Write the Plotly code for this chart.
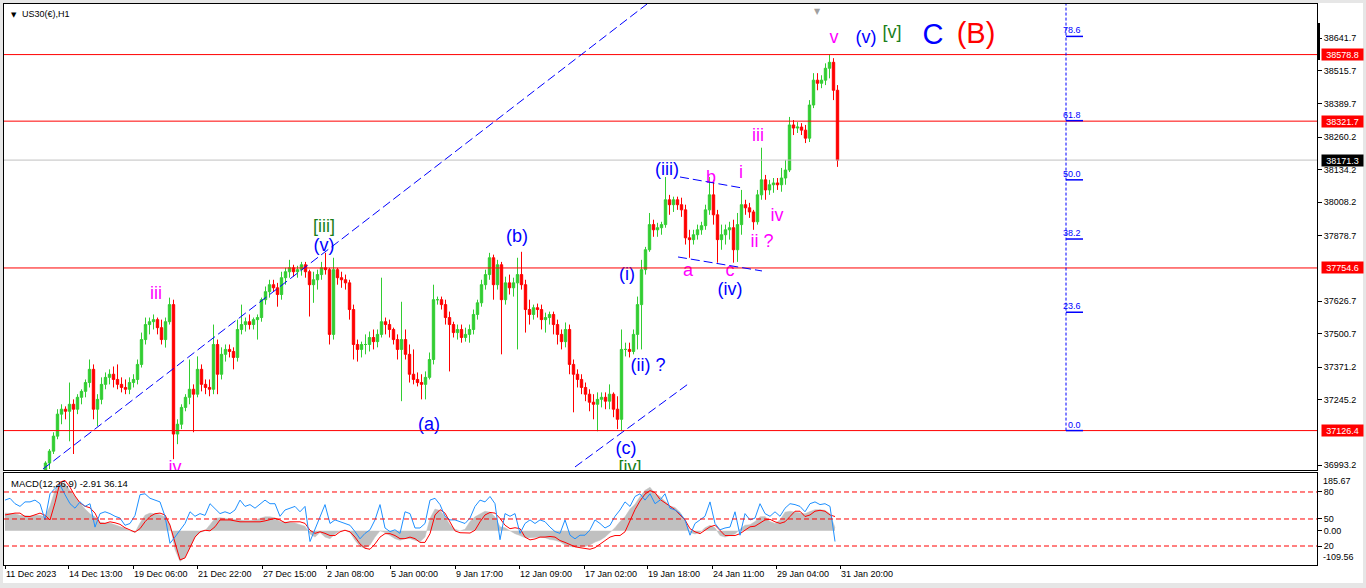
"""
US30 H1 chart with Elliott wave labels and a MACD / RSI sub-window
Rebuilt with Plotly graph objects
"""

import plotly.graph_objects as go

# ---------------------------------------------------------------- data
# price candles, one candle per 4 H1 bars, first candle starts at bar 39
PRICE_START_BAR = 39
BARS_PER_CANDLE = 4

OPEN = [36955, 37001, 37047, 37105, 37190, 37209, 37201, 37228, 37209, 37255,
        37278, 37312, 37363, 37209, 37247, 37305, 37332, 37344, 37324, 37305,
        37293, 37286, 37312, 37324, 37382, 37478, 37536, 37547, 37555, 37524,
        37478, 37547, 37613, 37113, 37151, 37216, 37255, 37286, 37267, 37363,
        37305, 37293, 37286, 37459, 37344, 37421, 37440, 37432, 37409, 37517,
        37536, 37547, 37536, 37555, 37563, 37632, 37663, 37690, 37678, 37652,
        37717, 37740, 37755, 37740, 37748, 37767, 37740, 37690, 37709, 37729,
        37755, 37748, 37498, 37748, 37717, 37709, 37697, 37594, 37459, 37440,
        37459, 37459, 37486, 37470, 37498, 37547, 37536, 37517, 37478, 37440,
        37478, 37421, 37344, 37324, 37312, 37305, 37332, 37401, 37632, 37632,
        37613, 37563, 37536, 37505, 37517, 37486, 37498, 37517, 37575, 37620,
        37690, 37729, 37794, 37690, 37767, 37632, 37697, 37678, 37697, 37729,
        37690, 37594, 37575, 37601, 37594, 37555, 37563, 37575, 37536, 37498,
        37470, 37517, 37382, 37344, 37324, 37293, 37267, 37236, 37228, 37247,
        37255, 37240, 37267, 37209, 37170, 37440, 37440, 37432, 37498, 37613,
        37748, 37825, 37922, 37902, 37910, 37922, 38018, 37999, 38018, 37999,
        37979, 37871, 37864, 37883, 37902, 37918, 37979, 38037, 37960, 37864,
        37883, 37902, 37910, 37825, 37922, 37999, 37987, 37971, 37933, 38037,
        38095, 38056, 38076, 38083, 38076, 38102, 38133, 38307, 38295, 38299,
        38287, 38256, 38384, 38480, 38468, 38480, 38526, 38549, 38441]
HIGH = [37008, 37055, 37120, 37209, 37228, 37220, 37312, 37247, 37267, 37286,
        37324, 37401, 37382, 37267, 37332, 37351, 37363, 37374, 37382, 37332,
        37324, 37332, 37344, 37401, 37505, 37563, 37563, 37575, 37563, 37555,
        37563, 37640, 37632, 37170, 37228, 37267, 37401, 37305, 37413, 37382,
        37324, 37324, 37536, 37478, 37448, 37459, 37459, 37448, 37555, 37613,
        37563, 37575, 37563, 37575, 37640, 37683, 37709, 37709, 37697, 37740,
        37755, 37786, 37767, 37763, 37778, 37778, 37748, 37740, 37748, 37778,
        37813, 37755, 37794, 37755, 37740, 37729, 37709, 37613, 37478, 37470,
        37498, 37509, 37517, 37517, 37717, 37563, 37555, 37524, 37498, 37624,
        37517, 37459, 37440, 37351, 37344, 37355, 37428, 37690, 37644, 37644,
        37632, 37586, 37547, 37536, 37536, 37524, 37536, 37594, 37632, 37709,
        37748, 37813, 37806, 37786, 37778, 37721, 37729, 37717, 37794, 37817,
        37709, 37632, 37613, 37617, 37613, 37582, 37586, 37586, 37555, 37517,
        37544, 37536, 37401, 37363, 37344, 37312, 37286, 37267, 37274, 37274,
        37274, 37305, 37274, 37259, 37517, 37466, 37466, 37517, 37644, 37786,
        37836, 37967, 37941, 37929, 37933, 38106, 38037, 38030, 38030, 38026,
        37999, 37902, 37902, 37922, 37933, 37999, 38106, 38095, 37979, 37922,
        37922, 37933, 37941, 37967, 38056, 38018, 38006, 37979, 38056, 38219,
        38114, 38095, 38102, 38102, 38141, 38172, 38338, 38326, 38318, 38314,
        38307, 38403, 38507, 38507, 38499, 38545, 38579, 38565, 38461]
LOW = [36947, 36978, 37036, 37093, 37151, 37170, 37085, 37036, 37190, 37228,
       37255, 37293, 37170, 37143, 37228, 37286, 37305, 37293, 37286, 37274,
       37267, 37267, 37293, 37305, 37370, 37459, 37498, 37517, 37498, 37459,
       37447, 37536, 37016, 37074, 37132, 37201, 37228, 37120, 37255, 37278,
       37267, 37259, 37267, 37267, 37324, 37393, 37409, 37363, 37393, 37498,
       37509, 37517, 37517, 37478, 37547, 37613, 37640, 37663, 37605, 37632,
       37690, 37717, 37721, 37717, 37725, 37717, 37567, 37620, 37671, 37709,
       37729, 37459, 37478, 37690, 37678, 37671, 37555, 37401, 37393, 37409,
       37421, 37432, 37440, 37448, 37486, 37498, 37486, 37459, 37401, 37240,
       37401, 37312, 37305, 37297, 37247, 37247, 37324, 37382, 37613, 37594,
       37536, 37355, 37486, 37478, 37466, 37470, 37466, 37498, 37555, 37605,
       37671, 37709, 37632, 37671, 37421, 37613, 37652, 37644, 37440, 37671,
       37505, 37536, 37555, 37563, 37517, 37505, 37536, 37498, 37459, 37440,
       37448, 37344, 37197, 37293, 37267, 37240, 37201, 37170, 37124, 37216,
       37209, 37209, 37178, 37132, 37124, 37413, 37409, 37421, 37440, 37440,
       37729, 37817, 37875, 37875, 37883, 37910, 37960, 37971, 37979, 37952,
       37845, 37794, 37845, 37864, 37883, 37902, 37960, 37922, 37775, 37825,
       37845, 37864, 37775, 37778, 37883, 37960, 37948, 37902, 37922, 38018,
       38018, 38037, 38045, 38056, 38049, 38076, 38125, 38268, 38276, 38268,
       38237, 38241, 38372, 38441, 38449, 38461, 38487, 38403, 38145]
CLOSE = [37001, 37047, 37105, 37190, 37209, 37201, 37228, 37209, 37255, 37278,
         37312, 37363, 37209, 37247, 37305, 37332, 37344, 37324, 37305, 37293,
         37286, 37312, 37324, 37382, 37478, 37536, 37547, 37555, 37524, 37478,
         37547, 37613, 37113, 37151, 37216, 37255, 37286, 37267, 37363, 37305,
         37293, 37286, 37459, 37344, 37421, 37440, 37432, 37409, 37517, 37536,
         37547, 37536, 37555, 37563, 37632, 37663, 37690, 37678, 37652, 37717,
         37740, 37755, 37740, 37748, 37767, 37740, 37690, 37709, 37729, 37755,
         37748, 37498, 37748, 37717, 37709, 37697, 37594, 37459, 37440, 37459,
         37459, 37486, 37470, 37498, 37547, 37536, 37517, 37478, 37440, 37478,
         37421, 37344, 37324, 37312, 37305, 37332, 37401, 37632, 37632, 37613,
         37563, 37536, 37505, 37517, 37486, 37498, 37517, 37575, 37620, 37690,
         37729, 37794, 37690, 37767, 37632, 37697, 37678, 37697, 37729, 37690,
         37594, 37575, 37601, 37594, 37555, 37563, 37575, 37536, 37498, 37470,
         37517, 37382, 37344, 37324, 37293, 37267, 37236, 37228, 37247, 37255,
         37240, 37267, 37209, 37170, 37440, 37440, 37432, 37498, 37613, 37748,
         37825, 37922, 37902, 37910, 37922, 38018, 37999, 38018, 37999, 37979,
         37871, 37864, 37883, 37902, 37918, 37979, 38037, 37960, 37864, 37883,
         37902, 37910, 37825, 37922, 37999, 37987, 37971, 37933, 38037, 38095,
         38056, 38076, 38083, 38076, 38102, 38133, 38307, 38295, 38299, 38287,
         38256, 38384, 38480, 38468, 38480, 38526, 38549, 38441, 38171]

# MACD window, one reading every 5 bars starting at bar 0
MACD_STEP = 5
MACD_HIST = [57, 57, 55, 50, 48, 48, 50, 50, 45, 80, 130, 155, 150, 130, 110, 90, 70, 55, 45, 28,
             25, 25, 20, 15, 8, 0, -5, 25, 50, 57, 55, 52, 45, 20, -60, -98, -85, -50, -20, -5,
             0, 20, 40, 42, 40, 38, 35, 33, 33, 33, 35, 40, 45, 45, 42, 30, 28, 28, 25, 20,
             15, -10, -20, -5, -20, -25, -10, 0, 2, -5, -30, -50, -55, -45, -20, 0, -5, -15, -25, -30,
             -25, -25, -30, -35, -20, 40, 70, 65, 45, 20, 5, 0, 5, 30, 45, 55, 63, 60, 45, 13,
             10, 0, -9, -15, -22, -22, -20, -20, -22, -28, -30, -35, -45, -50, -52, -50, -50, -45, -36, -30,
             -20, -5, 10, 30, 45, 70, 85, 110, 130, 140, 120, 110, 95, 80, 75, 60, 35, -5, -10, -5,
             10, 18, 10, -15, -20, -15, -10, 5, 18, 20, 30, 45, 46, 30, 24, 35, 60, 63, 60, 57,
             55, 62, 68, 68, 66, 55, 10]
MACD_SIGNAL = [51, 55, 57, 57, 46, 46, 52, 57, 50, 35, 90, 156, 162, 140, 112, 90, 79, 74, 57, 24,
               24, 29, 26, 21, 10, 2, -4, 7, 29, 46, 55, 57, 51, 18, -42, -93, -87, -53, -20, -3,
               2, 0, 13, 35, 35, 35, 32, 29, 29, 29, 29, 29, 32, 35, 40, 35, 26, 29, 29, 29,
               24, 2, -8, -3, -8, -15, -15, -3, 2, -3, -20, -42, -56, -59, -42, -20, -9, -9, -15, -25,
               -25, -20, -25, -37, -37, -9, 51, 68, 57, 30, 0, -6, -7, -7, 2, 29, 51, 59, 57, 40,
               18, 7, 10, 7, -20, -29, -26, -20, -20, -18, -20, -31, -37, -45, -51, -54, -56, -59, -54, -42,
               -31, -20, -15, -15, -3, 35, 68, 96, 118, 129, 123, 101, 90, 79, 68, 51, 35, 7, -3, -9,
               2, 13, 18, 2, -15, -15, -15, -9, 2, 13, 15, 24, 35, 37, 29, 24, 29, 46, 63, 63,
               46, 51, 63, 66, 63, 51, 46]
# blue oscillator drawn in the same window on a 0-100 scale
RSI_LINE = [71, 73, 67, 64, 69, 69, 71, 67, 49, 78, 84, 88, 77, 67, 62, 69, 64, 67, 41, 56,
            58, 56, 53, 51, 43, 45, 54, 77, 78, 73, 71, 69, 53, 23, 30, 38, 45, 58, 53, 56,
            54, 67, 62, 56, 58, 56, 60, 71, 64, 66, 62, 67, 71, 67, 67, 53, 60, 62, 64, 58,
            64, 25, 38, 53, 66, 45, 49, 47, 45, 43, 36, 28, 34, 38, 49, 66, 40, 36, 38, 34,
            58, 56, 40, 40, 45, 71, 73, 66, 53, 49, 49, 47, 45, 51, 64, 71, 69, 75, 67, 27,
            56, 53, 56, 34, 45, 49, 45, 49, 47, 41, 36, 34, 49, 32, 28, 32, 32, 38, 49, 45,
            40, 43, 53, 60, 69, 64, 75, 78, 71, 78, 67, 71, 78, 62, 60, 56, 49, 32, 45, 49,
            53, 69, 45, 38, 40, 41, 58, 32, 56, 49, 51, 67, 56, 53, 58, 53, 62, 67, 66, 64,
            58, 67, 69, 66, 67, 64, 25]
RSI_LEVELS = [80, 50, 20]

# axis labels
TIME_TICK_BARS = [0, 63, 128, 192, 257, 321, 385, 450, 514, 579, 642, 707, 771, 835]
TIME_TICK_LABELS = ["11 Dec 2023", "14 Dec 13:00", "19 Dec 06:00", "21 Dec 22:00",
                    "27 Dec 15:00", "2 Jan 08:00", "5 Jan 00:00", "9 Jan 17:00",
                    "12 Jan 09:00", "17 Jan 02:00", "19 Jan 18:00", "24 Jan 11:00",
                    "29 Jan 04:00", "31 Jan 20:00"]
# scale labels that are not hidden under a price box
PRICE_TICKS = [38641.7, 38515.7, 38389.7, 38260.2, 38134.2, 38008.2, 37878.7,
               37626.7, 37500.7, 37371.2, 37245.2, 36993.2]
PRICE_MIN, PRICE_MAX = 36974.1, 38774.2
MACD_MIN, MACD_MAX = -109.56, 185.67

# horizontal levels
RED_LEVELS = [38578.8, 38321.7, 37754.6, 37126.4]
BID_PRICE = 38171.3

# fibonacci retracement tool
FIB_BAR = 1061
FIB_LOW, FIB_HIGH = 37126.4, 39063.6
FIB_LEVELS = [0.0, 23.6, 38.2, 50.0, 61.8, 78.6]

# trend lines: (bar, price) -> (bar, price)
TREND_LINES = [((38, 36978), (642, 38774)),
               ((570, 36986), (683, 37306)),
               ((675, 38106), (738, 38063)),
               ((673, 37797), (757, 37743))]

# wave labels: text, bar, price, degree
WAVE_LABELS = [
    ("[iii]", 319, 37910, "intermediate"), ("(v)", 319, 37837, "minor"),
    ("iii", 151, 37652, "minute"), ("iv", 170, 36981, "minute"),
    ("(a)", 424, 37147, "minor"), ("(b)", 512, 37871, "minor"),
    ("(c)", 621, 37055, "minor"), ("[iv]", 625, 36981, "intermediate"),
    ("(i)", 622, 37725, "minor"), ("(ii) ?", 643, 37374, "minor"),
    ("(iii)", 662, 38133, "minor"), ("a", 683, 37740, "minute"),
    ("b", 706, 38102, "minute"), ("c", 725, 37742, "minute"),
    ("(iv)", 725, 37668, "minor"), ("i", 736, 38118, "minute"),
    ("ii ?", 757, 37852, "minute"), ("iv", 772, 37952, "minute"),
    ("iii", 753, 38264, "minute"), ("v", 829, 38642, "minute"),
    ("(v)", 861, 38642, "minor"), ("[v]", 887, 38661, "intermediate"),
]
BIG_LABELS = [("C", 928, 38649, "primary"), ("(B)", 971, 38653, "cycle")]

# ---------------------------------------------------------------- style
FONT = "Liberation Sans, Arial, sans-serif"
BAR_UP = "#32CD32"
BAR_DOWN = "#FF0000"
DEGREE_COLORS = {
    "minute": "#FF00FF",
    "minor": "#0000FF",
    "intermediate": "#1A7F1A",
    "primary": "#0000FF",
    "cycle": "#FF0000",
}
X_RANGE = [-1, 1312]
MAIN_DOMAIN = [0.1693, 1.0]
SUB_DOMAIN = [0.0, 0.164]

fig = go.Figure()

# price bars
candle_x = [PRICE_START_BAR + BARS_PER_CANDLE * i + 1.5 for i in range(len(CLOSE))]
fig.add_trace(go.Candlestick(
    x=candle_x, open=OPEN, high=HIGH, low=LOW, close=CLOSE,
    increasing=dict(line=dict(color=BAR_UP, width=1), fillcolor=BAR_UP),
    decreasing=dict(line=dict(color=BAR_DOWN, width=1), fillcolor=BAR_DOWN),
    whiskerwidth=0, xaxis="x", yaxis="y", hoverinfo="skip", showlegend=False
))

# MACD window
macd_x = [MACD_STEP * i for i in range(len(MACD_HIST))]
fig.add_trace(go.Scatter(
    x=macd_x, y=MACD_HIST, mode="lines", fill="tozeroy",
    fillcolor="#C0C0C0", line=dict(color="#C0C0C0", width=0.5),
    xaxis="x2", yaxis="y2", hoverinfo="skip", showlegend=False
))
fig.add_trace(go.Scatter(
    x=macd_x, y=MACD_SIGNAL, mode="lines", line=dict(color="#FF0000", width=1),
    xaxis="x2", yaxis="y2", hoverinfo="skip", showlegend=False
))
fig.add_trace(go.Scatter(
    x=macd_x, y=RSI_LINE, mode="lines", line=dict(color="#1E90FF", width=1),
    xaxis="x2", yaxis="y3", hoverinfo="skip", showlegend=False
))

# wave labels as text traces so they are clipped at the panel edge
fig.add_trace(go.Scatter(
    x=[w[1] for w in WAVE_LABELS], y=[w[2] for w in WAVE_LABELS],
    text=[w[0] for w in WAVE_LABELS], mode="text", textposition="middle center",
    textfont=dict(family=FONT, size=18, color=[DEGREE_COLORS[w[3]] for w in WAVE_LABELS]),
    xaxis="x", yaxis="y", hoverinfo="skip", showlegend=False, cliponaxis=True
))
fig.add_trace(go.Scatter(
    x=[w[1] for w in BIG_LABELS], y=[w[2] for w in BIG_LABELS],
    text=[w[0] for w in BIG_LABELS], mode="text", textposition="middle center",
    textfont=dict(family=FONT, size=29, color=[DEGREE_COLORS[w[3]] for w in BIG_LABELS]),
    xaxis="x", yaxis="y", hoverinfo="skip", showlegend=False
))

shapes = []
annotations = []

# window frame: grey border round a white chart area
shapes.append(dict(type="rect", xref="paper", yref="paper", layer="below",
                   x0=-1 / 1313, x1=1359 / 1313, y0=-18 / 561, y1=562 / 561,
                   fillcolor="white", line=dict(width=0)))

# red support / resistance lines with price boxes
for level in RED_LEVELS:
    shapes.append(dict(type="line", xref="paper", yref="y", x0=0, x1=1, y0=level, y1=level,
                       line=dict(color="#FF0000", width=1)))
    annotations.append(dict(xref="paper", yref="y", x=1, y=level, xanchor="left", xshift=4,
                            text=f"{level:.1f}", showarrow=False, bgcolor="#FF0000",
                            font=dict(family=FONT, size=9, color="white"),
                            width=41, height=11, borderpad=0))

# bid line
shapes.append(dict(type="line", xref="paper", yref="y", x0=0, x1=1, y0=BID_PRICE, y1=BID_PRICE,
                   line=dict(color="#C0C0C0", width=1)))
annotations.append(dict(xref="paper", yref="y", x=1, y=BID_PRICE, xanchor="left", xshift=4,
                        text=f"{BID_PRICE:.1f}", showarrow=False, bgcolor="black",
                        font=dict(family=FONT, size=9, color="white"),
                        width=41, height=11, borderpad=0))

# trend lines
for (b0, p0), (b1, p1) in TREND_LINES:
    shapes.append(dict(type="line", xref="x", yref="y", x0=b0, y0=p0, x1=b1, y1=p1,
                       line=dict(color="#0000FF", width=1, dash="9px,4px")))

# fibonacci tool
shapes.append(dict(type="line", xref="x", yref="y", x0=FIB_BAR, x1=FIB_BAR,
                   y0=FIB_LOW, y1=FIB_HIGH, line=dict(color="#0000FF", width=1, dash="3px,2px")))
for lvl in FIB_LEVELS:
    price = FIB_LOW + lvl / 100 * (FIB_HIGH - FIB_LOW)
    shapes.append(dict(type="line", xref="x", yref="y", x0=FIB_BAR, x1=FIB_BAR + 17,
                       y0=price, y1=price, line=dict(color="#0000FF", width=1.5)))
    annotations.append(dict(xref="x", yref="y", x=FIB_BAR + 17, y=price, xanchor="right",
                            yanchor="bottom", yshift=-1, text=f"{lvl:.1f}", showarrow=False,
                            font=dict(family=FONT, size=9, color="#0000FF")))

# oscillator levels
for lvl in RSI_LEVELS:
    shapes.append(dict(type="line", xref="paper", yref="y3", x0=0, x1=1, y0=lvl, y1=lvl,
                       line=dict(color="#FF0000", width=1, dash="5px,3px")))

# scale marker on the price axis
shapes.append(dict(type="rect", xref="paper", yref="paper", x0=1, x1=1 + 3 / 1313,
                   y0=505 / 561, y1=542 / 561, fillcolor="black", line=dict(width=0)))

# window texts
annotations += [
    dict(xref="paper", yref="paper", x=0, y=1, xanchor="left", yanchor="top",
         xshift=5, yshift=-5, text="▼", showarrow=False,
         font=dict(family="DejaVu Sans", size=7, color="black")),
    dict(xref="paper", yref="paper", x=0, y=1, xanchor="left", yanchor="top",
         xshift=16, yshift=-3, text="US30(€),H1", showarrow=False,
         font=dict(family=FONT, size=9, color="black")),
    dict(xref="x", yref="paper", x=812, y=1, yanchor="top", yshift=-1, text="▼",
         showarrow=False, font=dict(family="DejaVu Sans", size=8, color="#A0A0A0")),
    dict(xref="paper", yref="y2 domain", x=0, y=1, xanchor="left", yanchor="top",
         xshift=5, yshift=-3, text="MACD(12,26,9) -2.91 36.14", showarrow=False,
         font=dict(family=FONT, size=9.5, color="black")),
    dict(xref="paper", yref="y2 domain", x=1, y=1, xanchor="left", yanchor="top",
         xshift=4, yshift=-1, text=f"{MACD_MAX:.2f}", showarrow=False,
         font=dict(family=FONT, size=9, color="black")),
    dict(xref="paper", yref="y2 domain", x=1, y=0, xanchor="left", yanchor="bottom",
         xshift=4, yshift=1, text=f"{MACD_MIN:.2f}", showarrow=False,
         font=dict(family=FONT, size=9, color="black")),
]

axis_font = dict(family=FONT, size=9, color="black")
frame = dict(showline=True, mirror=True, linecolor="black", linewidth=1,
             showgrid=False, zeroline=False)

fig.update_layout(
    width=1366, height=588,
    margin=dict(l=4, r=49, t=4, b=23),
    paper_bgcolor="#E6E6E6", plot_bgcolor="white",
    showlegend=False, boxgap=0.15,
    xaxis=dict(domain=[0, 1], anchor="y", range=X_RANGE, showticklabels=False,
               ticks="", rangeslider=dict(visible=False), **frame),
    yaxis=dict(domain=MAIN_DOMAIN, anchor="x", side="right", range=[PRICE_MIN, PRICE_MAX],
               tickvals=PRICE_TICKS, ticktext=[f"{v:.1f}" for v in PRICE_TICKS],
               ticks="outside", ticklen=4, tickcolor="black", tickfont=axis_font, **frame),
    xaxis2=dict(domain=[0, 1], anchor="y2", matches="x", range=X_RANGE,
                tickvals=TIME_TICK_BARS, ticktext=TIME_TICK_LABELS,
                ticks="outside", ticklen=3, tickcolor="black",
                ticklabelposition="outside right", tickfont=axis_font, **frame),
    yaxis2=dict(domain=SUB_DOMAIN, anchor="x2", side="right", range=[MACD_MIN, MACD_MAX],
                tickvals=[0], ticktext=["0.00"], ticks="outside", ticklen=4,
                tickcolor="black", tickfont=axis_font, **frame),
    yaxis3=dict(overlaying="y2", anchor="x2", side="right", range=[-1.1, 101.1],
                tickvals=RSI_LEVELS, ticktext=[str(v) for v in RSI_LEVELS],
                ticks="outside", ticklen=4, tickcolor="black", tickfont=axis_font,
                showgrid=False, zeroline=False, showline=False),
    shapes=shapes,
    annotations=annotations,
)

# page body margin would push the 1366x588 figure off the window edge
fig.write_html("out.html", config={"displayModeBar": False},
               post_script="document.body.style.margin = '0';")
